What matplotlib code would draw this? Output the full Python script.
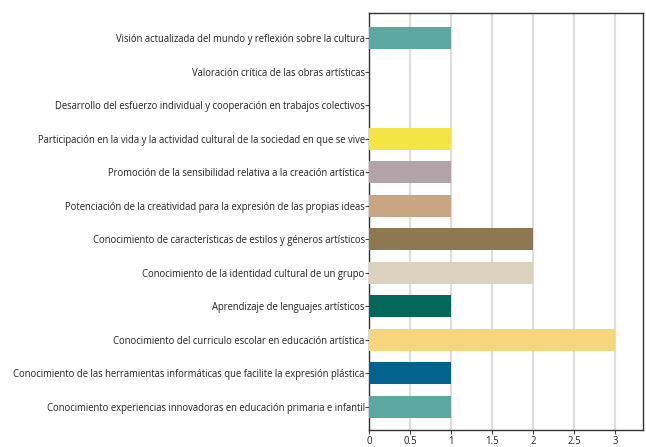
import matplotlib
matplotlib.use("Agg")
import matplotlib.pyplot as plt

categories = [
    "Visión actualizada del mundo y reflexión sobre la cultura",
    "Valoración crítica de las obras artísticas",
    "Desarrollo del esfuerzo individual y cooperación en trabajos colectivos",
    "Participación en la vida y la actividad cultural de la sociedad en que se vive",
    "Promoción de la sensibilidad relativa a la creación artística",
    "Potenciación de la creatividad para la expresión de las propias ideas",
    "Conocimiento de características de estilos y géneros artísticos",
    "Conocimiento de la identidad cultural de un grupo",
    "Aprendizaje de lenguajes artísticos",
    "Conocimiento del curriculo escolar en educación artística",
    "Conocimiento de las herramientas informáticas que facilite la expresión plástica",
    "Conocimiento experiencias innovadoras en educación primaria e infantil",
]
values = [1, 0, 0, 1, 1, 1, 2, 2, 1, 3, 1, 1]
colors = ["#5ca8a0", "#5ca8a0", "#5ca8a0", "#f2e545", "#b3a2a7", "#caa584",
          "#8d7852", "#dbd2bd", "#03685a", "#f5d67c", "#03638c", "#5ca8a0"]
xticks = [0, 0.5, 1, 1.5, 2, 2.5, 3]
xticklabels = ["0", "0.5", "1", "1.5", "2", "2.5", "3"]

plt.rcParams['font.family'] = ['Open Sans', 'DejaVu Sans']

fig = plt.figure(figsize=(6.46, 4.47), dpi=100)
ax = fig.add_axes([0.571, 0.038, 0.424, 0.933])

ypos = list(range(len(categories)))
ax.barh(ypos, values, height=0.66, color=colors, zorder=3)
ax.set_ylim(len(categories) - 1 + 0.69, -0.75)
ax.set_xlim(0, 3.34)
ax.set_yticks(ypos)
ax.set_yticklabels(categories, fontsize=6.85, color="#222222")
ax.set_xticks(xticks)
ax.set_xticklabels(xticklabels, fontsize=6.85, color="#222222")
ax.tick_params(axis="y", length=3, width=0.8, pad=0, color="#444444")
ax.tick_params(axis="x", length=3, width=0.8, pad=1.5, color="#444444")
ax.grid(axis="x", color="#dddddd", linewidth=1.6, zorder=0)
for s in ax.spines.values():
    s.set_color("#333333")
    s.set_linewidth(1.0)

fig.savefig("out.png", dpi=100)
